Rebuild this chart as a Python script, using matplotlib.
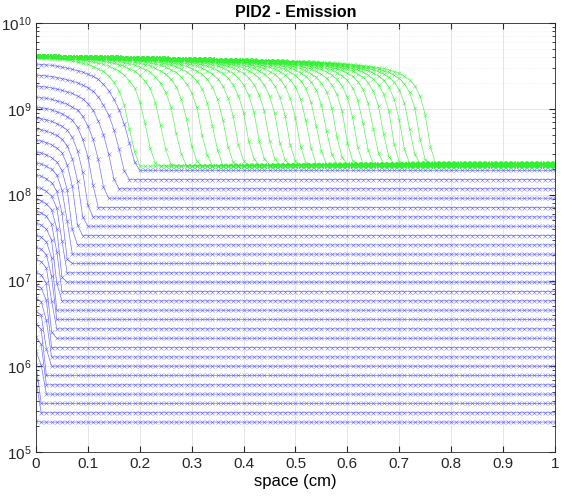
import numpy as np
import matplotlib
matplotlib.use('Agg')
import matplotlib.pyplot as plt

plt.rcParams['font.family'] = ['Liberation Sans', 'DejaVu Sans']
plt.rcParams['mathtext.default'] = 'regular'

# grid of the simulation (cm)
x = np.linspace(0., 1., 101)

# blue curves (early times), bottom to top
blue_base = [2.25e5, 2.89e5, 3.71e5, 4.76e5, 6.11e5, 7.85e5, 1.01e6, 1.29e6,
             1.66e6, 2.13e6, 2.74e6, 3.52e6, 4.52e6, 5.80e6, 7.45e6, 9.57e6,
             1.23e7, 1.58e7, 2.03e7, 2.60e7, 3.34e7, 4.29e7, 5.51e7, 7.08e7,
             9.09e7, 1.17e8, 1.50e8, 1.92e8]
blue_left = [2.31e5, 6.92e5, 1.04e6, 1.51e6, 2.19e6, 3.10e6, 4.40e6, 6.24e6,
             8.84e6, 1.25e7, 1.77e7, 2.45e7, 3.38e7, 4.66e7, 6.43e7, 8.87e7,
             1.22e8, 1.69e8, 2.33e8, 3.13e8, 4.31e8, 5.79e8, 7.77e8, 1.04e9,
             1.36e9, 1.83e9, 2.46e9, 3.30e9]
blue_knee = [0.005, 0.007, 0.010, 0.013, 0.016, 0.019, 0.022, 0.025, 0.028,
             0.031, 0.034, 0.037, 0.040, 0.043, 0.047, 0.051, 0.056, 0.061,
             0.067, 0.074, 0.083, 0.093, 0.104, 0.118, 0.135, 0.155, 0.175,
             0.195]
# shape of the blue front: fraction of the drop left vs. distance to knee / knee
blue_u = [0, 0.05, 0.1, 0.15, 0.2, 0.3, 0.4, 0.55, 0.7, 0.85, 1.0]
blue_h = [0, 0.15, 0.35, 0.5, 0.62, 0.78, 0.87, 0.93, 0.965, 0.99, 1.0]

# green curves (later times)
green_knee = [0.200, 0.232, 0.261, 0.288, 0.313, 0.337, 0.360, 0.382, 0.403,
              0.424, 0.444, 0.464, 0.483, 0.502, 0.521, 0.540, 0.558, 0.576,
              0.594, 0.612, 0.630, 0.648, 0.666, 0.684, 0.701, 0.718, 0.735,
              0.752, 0.769]
green_base = list(np.linspace(2.15e8, 2.33e8, len(green_knee)))
green_width = list(np.linspace(1.4, 1.0, len(green_knee)))
# upper plateau of the green curves
env_x = [0, 0.2, 0.4, 0.5, 0.6, 0.7, 0.8, 1.0]
env_v = [4.10e9, 3.91e9, 3.68e9, 3.53e9, 3.35e9, 3.13e9, 2.89e9, 2.46e9]
green_s = [0, 0.01, 0.02, 0.03, 0.04, 0.05, 0.07, 0.1, 0.15, 0.2]
green_h = [0, 0.19, 0.54, 0.72, 0.81, 0.87, 0.93, 0.97, 0.99, 1.0]


def blue_curve(base, left, knee):
    u = np.clip((knee - x) / knee, 0, 1)
    h = np.interp(u, blue_u, blue_h)
    lb, lt = np.log10(base), np.log10(left)
    return 10 ** (lb + (lt - lb) * h)


def green_curve(base, knee, w):
    s = np.clip((knee - x) / w, 0, None)
    h = np.interp(s, green_s, green_h)
    lb = np.log10(base)
    lt = np.log10(np.interp(x, env_x, env_v))
    return 10 ** (lb + (lt - lb) * h)


fig = plt.figure(figsize=(5.61, 4.96), dpi=100)
ax = fig.add_axes([0.0642, 0.088, 0.925, 0.866])

for b, l, k in zip(blue_base, blue_left, blue_knee):
    ax.semilogy(x, blue_curve(b, l, k), '-x', color='#5050ff', lw=0.5,
                ms=2.2, mew=0.4, alpha=0.8)
for b, k, w in zip(green_base, green_knee, green_width):
    ax.semilogy(x, green_curve(b, k, w), '-x', color='#30f030', lw=0.5,
                ms=2.2, mew=0.4, alpha=0.8)

ax.set_xlim(0, 1)
ax.set_ylim(1e5, 1e10)
ax.set_xticks(np.arange(0, 1.01, 0.1))
ax.set_xticklabels(['0', '0.1', '0.2', '0.3', '0.4', '0.5', '0.6', '0.7',
                    '0.8', '0.9', '1'])
ax.grid(True, which='major', color='#e0e0e0', lw=0.6)
ax.grid(True, which='minor', axis='y', color='#eeeeee', lw=0.5, ls=':')
ax.tick_params(which='both', direction='in', top=True, right=True,
               labelsize=11, colors='#262626')
ax.tick_params(which='major', length=4)
ax.tick_params(which='minor', length=2)
for sp in ax.spines.values():
    sp.set_color('#262626')
    sp.set_linewidth(0.6)

ax.set_title('PID2 - Emission', fontsize=11.5, fontweight='bold', pad=4)
ax.set_xlabel('space (cm)', fontsize=12, labelpad=2)

fig.savefig('out.png', dpi=100)
